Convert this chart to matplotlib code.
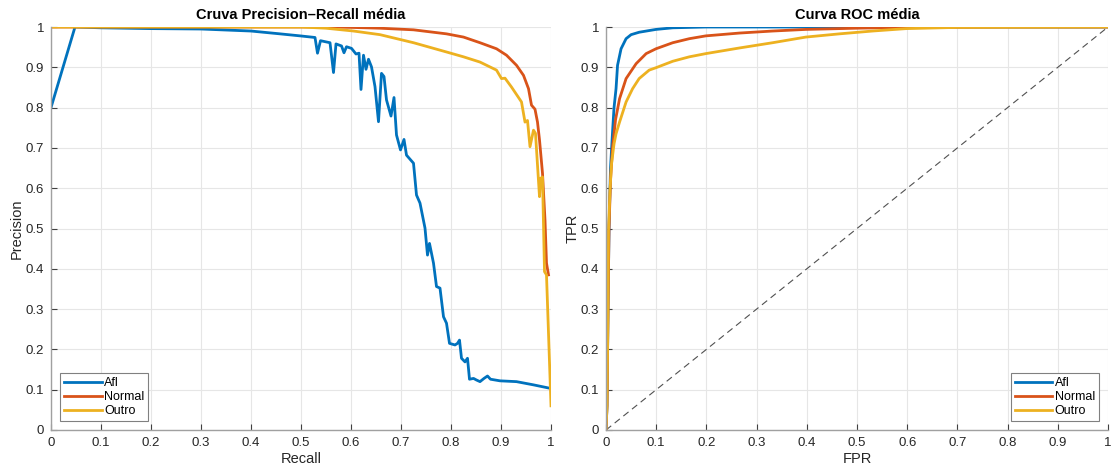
import matplotlib
matplotlib.use("Agg")
import matplotlib.pyplot as plt

plt.rcParams['font.family'] = ['Liberation Sans', 'DejaVu Sans']

labels = ["Afl", "Normal", "Outro"]
colors = ["#0072BD", "#D95319", "#EDB120"]

afl_recall = [0, 0.048, 0.1, 0.2, 0.3, 0.4, 0.458, 0.498, 0.528, 0.533, 0.539,
              0.558, 0.565, 0.570, 0.581, 0.586, 0.591, 0.601, 0.610, 0.616, 0.620,
              0.625, 0.630, 0.635, 0.641, 0.648, 0.655, 0.661, 0.666, 0.671, 0.680,
              0.686, 0.691, 0.699, 0.706, 0.711, 0.725, 0.731, 0.738, 0.748, 0.753,
              0.757, 0.765, 0.771, 0.778, 0.785, 0.791, 0.797, 0.808, 0.813, 0.817,
              0.821, 0.828, 0.833, 0.837, 0.845, 0.851, 0.858, 0.866, 0.873, 0.879,
              0.898, 0.931, 0.965, 1.0]
afl_precision = [0.80, 1.0, 0.998, 0.996, 0.995, 0.99, 0.983, 0.978, 0.974, 0.935, 0.966,
                 0.961, 0.887, 0.958, 0.953, 0.936, 0.951, 0.947, 0.933, 0.935, 0.845,
                 0.930, 0.895, 0.920, 0.901, 0.852, 0.765, 0.885, 0.877, 0.819, 0.779,
                 0.825, 0.732, 0.695, 0.721, 0.682, 0.662, 0.583, 0.563, 0.501, 0.434,
                 0.463, 0.414, 0.356, 0.352, 0.281, 0.265, 0.215, 0.211, 0.215, 0.223,
                 0.178, 0.169, 0.178, 0.126, 0.128, 0.124, 0.120, 0.128, 0.134, 0.126,
                 0.122, 0.120, 0.112, 0.103]

normal_recall = [0, 0.55, 0.6, 0.658, 0.725, 0.791, 0.825, 0.858, 0.891, 0.911, 0.931,
                 0.945, 0.955, 0.961, 0.968, 0.973, 0.977, 0.983, 0.988, 0.991, 0.995]
normal_precision = [1, 1, 0.999, 0.997, 0.993, 0.983, 0.975, 0.961, 0.946, 0.930, 0.905,
                    0.880, 0.847, 0.806, 0.796, 0.764, 0.720, 0.637, 0.521, 0.414, 0.385]

outro_recall = [0, 0.5, 0.55, 0.605, 0.658, 0.725, 0.791, 0.825, 0.858, 0.891, 0.901,
                0.908, 0.921, 0.941, 0.948, 0.953, 0.958, 0.965, 0.969, 0.977, 0.979,
                0.983, 0.987, 0.991, 1.0]
outro_precision = [1, 1, 0.997, 0.99, 0.981, 0.961, 0.938, 0.926, 0.913, 0.893, 0.872,
                   0.873, 0.851, 0.814, 0.764, 0.768, 0.703, 0.744, 0.736, 0.579, 0.624,
                   0.628, 0.393, 0.385, 0.06]

afl_fpr = [0, 0.002, 0.004, 0.006, 0.009, 0.013, 0.016, 0.020, 0.023, 0.030, 0.040,
           0.050, 0.066, 0.0996, 0.133, 0.2, 0.3, 1]
afl_tpr = [0, 0.06, 0.3, 0.5, 0.65, 0.739, 0.80, 0.847, 0.905, 0.946, 0.971,
           0.981, 0.987, 0.994, 0.998, 1.0, 1.0, 1.0]

normal_fpr = [0, 0.002, 0.004, 0.006, 0.009, 0.013, 0.019, 0.027, 0.040, 0.060, 0.080,
              0.0996, 0.133, 0.166, 0.199, 0.266, 0.332, 0.398, 0.498, 0.6, 0.8, 1]
normal_tpr = [0, 0.06, 0.3, 0.5, 0.62, 0.70, 0.77, 0.822, 0.872, 0.909, 0.934,
              0.946, 0.961, 0.971, 0.978, 0.985, 0.990, 0.994, 0.997, 0.999, 1, 1]

outro_fpr = [0, 0.002, 0.004, 0.005, 0.008, 0.011, 0.016, 0.020, 0.027, 0.040, 0.053,
             0.066, 0.086, 0.0996, 0.133, 0.166, 0.199, 0.266, 0.332, 0.398, 0.465,
             0.531, 0.598, 0.7, 1]
outro_tpr = [0, 0.06, 0.3, 0.496, 0.596, 0.66, 0.71, 0.735, 0.764, 0.814, 0.847,
             0.872, 0.893, 0.899, 0.915, 0.926, 0.934, 0.948, 0.961, 0.975, 0.983,
             0.990, 0.996, 0.999, 1]

ticks = [round(0.1 * i, 1) for i in range(11)]
tick_labels = ["0", "0.1", "0.2", "0.3", "0.4", "0.5", "0.6", "0.7", "0.8", "0.9", "1"]

fig = plt.figure(figsize=(11.13, 4.72), dpi=100)
ax1 = fig.add_axes([51 / 1113, 42 / 472, 500 / 1113, 403 / 472])
ax2 = fig.add_axes([606 / 1113, 42 / 472, 502 / 1113, 403 / 472])


def style(ax):
    ax.set_xlim(0, 1)
    ax.set_ylim(0, 1)
    ax.set_xticks(ticks)
    ax.set_xticklabels(tick_labels)
    ax.set_yticks(ticks)
    ax.set_yticklabels(tick_labels)
    ax.grid(True, color="#e6e6e6", linewidth=0.8)
    ax.set_axisbelow(True)
    for s in ["top", "right"]:
        ax.spines[s].set_visible(False)
    for s in ["left", "bottom"]:
        ax.spines[s].set_color("#a0a0a0")
        ax.spines[s].set_linewidth(1.0)
    ax.tick_params(direction="in", length=4, colors="#404040", labelsize=9.5,
                   labelcolor="#262626", pad=5)


style(ax1)
style(ax2)

pr_data = [(afl_recall, afl_precision), (normal_recall, normal_precision),
           (outro_recall, outro_precision)]
for (x, y), c, l in zip(pr_data, colors, labels):
    ax1.plot(x, y, color=c, linewidth=2.0, label=l, solid_joinstyle="round")

roc_data = [(afl_fpr, afl_tpr), (normal_fpr, normal_tpr), (outro_fpr, outro_tpr)]
ax2.plot([0, 1], [0, 1], linestyle=(0, (6, 4)), color="#505050", linewidth=0.8)
for (x, y), c, l in zip(roc_data, colors, labels):
    ax2.plot(x, y, color=c, linewidth=2.0, label=l, solid_joinstyle="round")

ax1.set_title("Cruva Precision–Recall média", fontsize=10.5, fontweight="bold", pad=6)
ax2.set_title("Curva ROC média", fontsize=10.5, fontweight="bold", pad=6)
ax1.set_xlabel("Recall", fontsize=10.5, color="#262626", labelpad=2)
ax1.set_ylabel("Precision", fontsize=10.5, color="#262626", labelpad=1)
ax2.set_xlabel("FPR", fontsize=10.5, color="#262626", labelpad=2)
ax2.set_ylabel("TPR", fontsize=10.5, color="#262626", labelpad=1)

leg_kw = dict(fontsize=9, frameon=True, fancybox=False, handlelength=3.0,
              handletextpad=0.2, borderpad=0.3, labelspacing=0.15, borderaxespad=0.75,
              edgecolor="#808080", framealpha=1)
l1 = ax1.legend(loc="lower left", **leg_kw)
l2 = ax2.legend(handles=ax2.lines[1:], labels=labels, loc="lower right", **leg_kw)
for l in (l1, l2):
    l.get_frame().set_linewidth(0.8)

fig.savefig("out.png", dpi=100, facecolor="white")
